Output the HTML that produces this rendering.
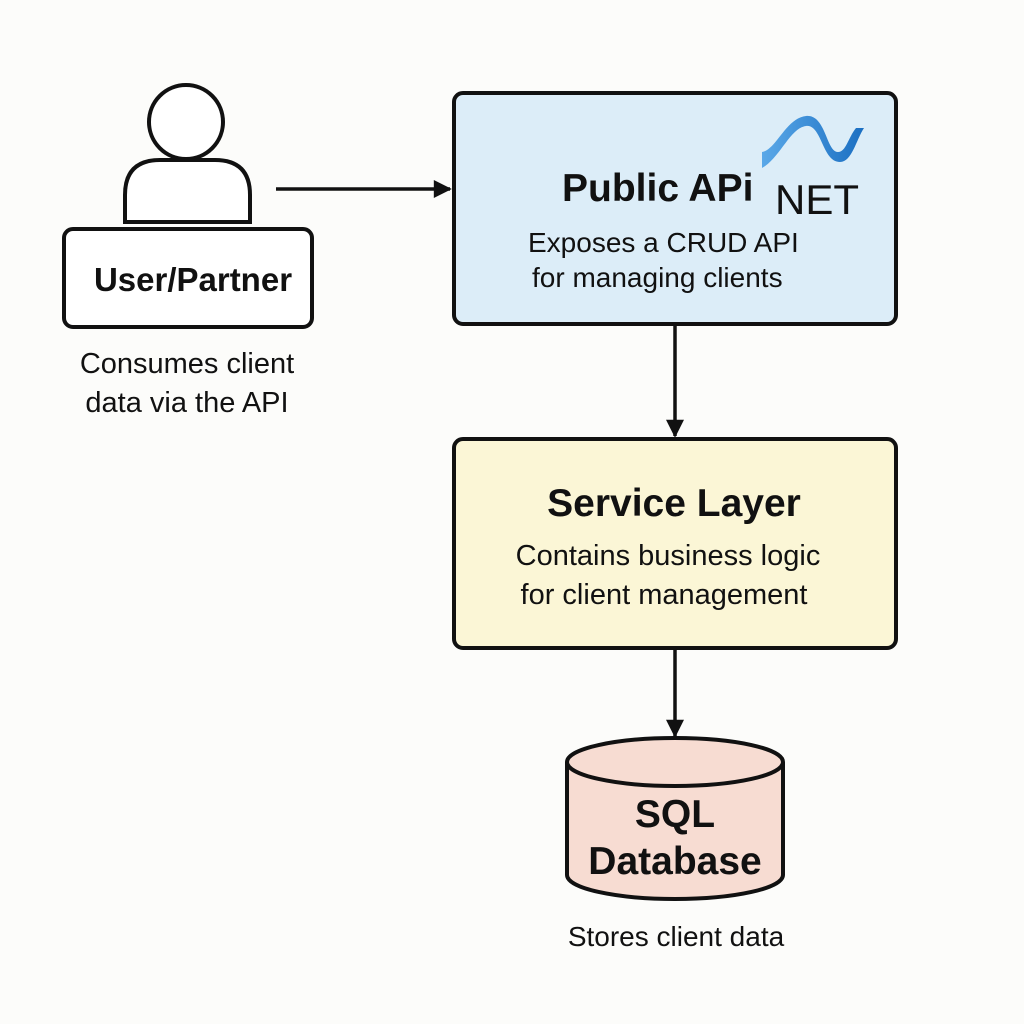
<!DOCTYPE html>
<html><head><meta charset="utf-8"><style>
html,body{margin:0;padding:0;background:#fcfcfa;}
svg{display:block;font-family:"Liberation Sans",Arial,sans-serif;}
</style></head><body>
<svg width="1024" height="1024" viewBox="0 0 1024 1024" xmlns="http://www.w3.org/2000/svg">
<defs>
<marker id="ah" viewBox="0 0 10 10" refX="9" refY="5" markerWidth="20" markerHeight="18" orient="auto" markerUnits="userSpaceOnUse">
<path d="M0,0 L10,5 L0,10 z" fill="#111"/></marker>
<linearGradient id="wave" x1="0" y1="0" x2="1" y2="0"><stop offset="0" stop-color="#5aa8e8"/><stop offset="1" stop-color="#1b6fc2"/></linearGradient>
</defs>
<rect width="1024" height="1024" fill="#fcfcfa"/>
<!-- person -->
<circle cx="186" cy="122" r="37" fill="#fff" stroke="#111" stroke-width="4"/>
<path d="M125,222 L125,195 Q125,160 160,160 L215,160 Q250,160 250,195 L250,222 Z" fill="#fff" stroke="#111" stroke-width="4"/>
<rect x="64" y="229" width="248" height="98" rx="9" fill="#fff" stroke="#111" stroke-width="4"/>
<text x="193" y="291" font-size="33" font-weight="bold" text-anchor="middle" fill="#111">User/Partner</text>
<text x="187" y="373" font-size="29" text-anchor="middle" fill="#111">Consumes client</text>
<text x="187" y="412" font-size="29" text-anchor="middle" fill="#111">data via the API</text>
<!-- arrow to API -->
<line x1="276" y1="189" x2="450" y2="189" stroke="#111" stroke-width="3.5" marker-end="url(#ah)"/>
<!-- API box -->
<rect x="454" y="93" width="442" height="231" rx="9" fill="#dcedf8" stroke="#111" stroke-width="4"/>
<path d="M762,168 C780,158 790,128 806,126 C822,124 822,162 840,162 C852,162 856,140 864,128 L856,128 C848,138 846,152 838,152 C826,152 826,114 806,116 C786,118 776,150 762,152 Z" fill="url(#wave)"/>
<text x="562" y="201" font-size="39" font-weight="bold" fill="#111">Public APi</text>
<text x="775" y="214" font-size="42" fill="#111">NET</text>
<text x="528" y="252" font-size="28" fill="#111">Exposes a CRUD API</text>
<text x="532" y="287" font-size="28" fill="#111">for managing clients</text>
<!-- arrow to service -->
<line x1="675" y1="325" x2="675" y2="436" stroke="#111" stroke-width="3.5" marker-end="url(#ah)"/>
<!-- service box -->
<rect x="454" y="439" width="442" height="209" rx="9" fill="#fbf6d6" stroke="#111" stroke-width="4"/>
<text x="674" y="516" font-size="39" font-weight="bold" text-anchor="middle" fill="#111">Service Layer</text>
<text x="668" y="565" font-size="29" text-anchor="middle" fill="#111">Contains business logic</text>
<text x="664" y="604" font-size="29" text-anchor="middle" fill="#111">for client management</text>
<!-- arrow to db -->
<line x1="675" y1="649" x2="675" y2="736" stroke="#111" stroke-width="3.5" marker-end="url(#ah)"/>
<!-- cylinder -->
<path d="M567,762 L567,875 A108,24 0 0 0 783,875 L783,762" fill="#f7dcd2" stroke="#111" stroke-width="4"/>
<ellipse cx="675" cy="762" rx="108" ry="24" fill="#f7dcd2" stroke="#111" stroke-width="4"/>
<text x="675" y="827" font-size="39" font-weight="bold" text-anchor="middle" fill="#111">SQL</text>
<text x="675" y="874" font-size="39" font-weight="bold" text-anchor="middle" fill="#111">Database</text>
<text x="676" y="946" font-size="28" text-anchor="middle" fill="#111">Stores client data</text>
</svg>
</body></html>
